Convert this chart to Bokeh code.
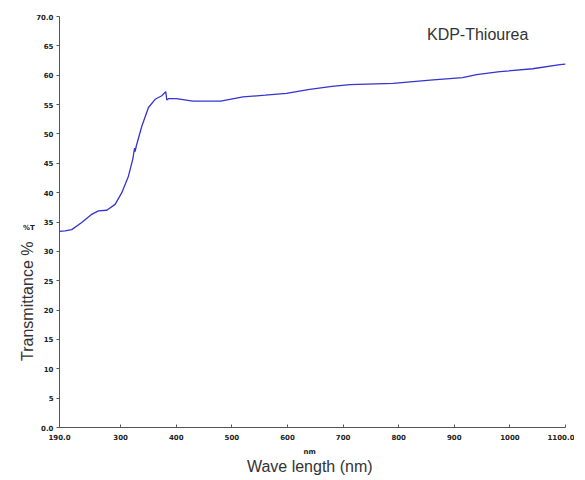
import math
from bokeh.plotting import figure
from bokeh.models import Label, FixedTicker, Range1d
from bokeh.embed import file_html
from bokeh.resources import INLINE

# Data (wavelength nm, transmittance %)
wavelength = [190, 200, 212, 230, 248, 260, 275, 290, 302, 314, 322, 325, 326, 328,
              338, 350, 362, 374, 381, 383, 386, 400, 430, 480, 520, 560, 598, 640,
              680, 712, 790, 862, 915, 940, 982, 1041, 1090, 1100]
transmittance = [33.4, 33.5, 33.7, 34.9, 36.3, 36.9, 37.0, 38.0, 40.0, 42.8, 45.8, 47.6, 47.0, 47.9,
                 51.3, 54.5, 55.9, 56.5, 57.2, 55.8, 56.0, 56.0, 55.6, 55.6, 56.3, 56.6, 56.9, 57.6,
                 58.1, 58.4, 58.6, 59.2, 59.6, 60.1, 60.6, 61.1, 61.8, 61.9]

x_ticks = [190, 300, 400, 500, 600, 700, 800, 900, 1000, 1100]
x_labels = ["190.0", "300", "400", "500", "600", "700", "800", "900", "1000", "1100.0"]
y_ticks = list(range(0, 75, 5))
y_labels = ["0.0"] + [str(v) for v in y_ticks[1:-1]] + ["70.0"]

p = figure(frame_width=506, frame_height=411, output_backend="svg", toolbar_location=None,
           x_range=Range1d(190, 1100), y_range=Range1d(0, 70),
           min_border_left=59, min_border_right=9, min_border_top=16, min_border_bottom=50)
p.outline_line_color = None
p.grid.visible = False
p.background_fill_color = "white"

p.line(wavelength, transmittance, line_color="#3434d0", line_width=1.3)

for ax in (p.xaxis[0], p.yaxis[0]):
    ax.axis_line_color = "#555555"
    ax.major_tick_line_color = "#555555"
    ax.minor_tick_line_color = None
    ax.major_label_text_font = "DejaVu Sans"
    ax.major_label_text_font_style = "bold"
    ax.major_label_text_font_size = "7px"
    ax.major_label_text_color = "#222222"

p.xaxis[0].ticker = FixedTicker(ticks=x_ticks)
p.xaxis[0].major_label_overrides = {t: l for t, l in zip(x_ticks, x_labels)}
p.xaxis[0].major_tick_in = 3
p.xaxis[0].major_tick_out = 0
p.xaxis[0].major_label_standoff = 6

p.yaxis[0].ticker = FixedTicker(ticks=y_ticks)
p.yaxis[0].major_label_overrides = {t: l for t, l in zip(y_ticks, y_labels)}
p.yaxis[0].major_tick_in = 0
p.yaxis[0].major_tick_out = 3
p.yaxis[0].major_label_standoff = 3

p.add_layout(Label(x=942, y=66.9, text="KDP-Thiourea", text_font="Liberation Sans",
                   text_font_size="16px", text_color="#333333",
                   text_align="center", text_baseline="middle"))
p.add_layout(Label(x=640, y=-6.6, text="Wave length (nm)", text_font="Liberation Sans",
                   text_font_size="16px", text_color="#333333",
                   text_align="center", text_baseline="middle"), "below")
p.add_layout(Label(x=133, y=21.5, text="Transmittance %", text_font="Liberation Sans",
                   text_font_size="16px", text_color="#333333", angle=math.pi / 2,
                   text_align="center", text_baseline="middle"), "left")
p.add_layout(Label(x=135, y=33.9, text="%T", text_font="DejaVu Sans", text_font_style="bold",
                   text_font_size="7px", text_color="#222222",
                   text_align="center", text_baseline="middle"), "below")
p.add_layout(Label(x=640, y=-4.1, text="nm", text_font="DejaVu Sans", text_font_style="bold",
                   text_font_size="7px", text_color="#222222",
                   text_align="center", text_baseline="middle"), "below")

open("out.html", "w").write(file_html(p, INLINE))
